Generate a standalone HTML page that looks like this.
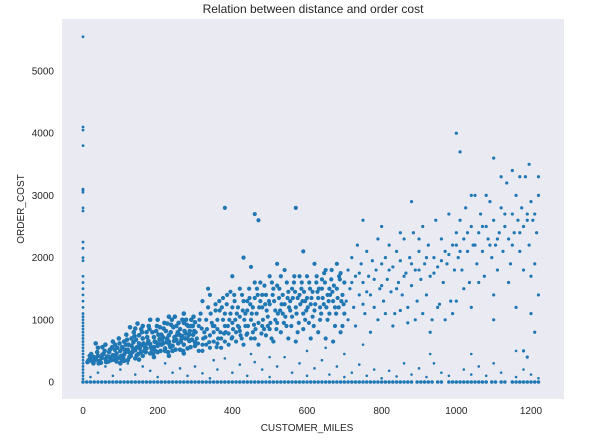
<!DOCTYPE html>
<html><head><meta charset="utf-8"><style>
body{margin:0;background:#fff;font-family:"Liberation Sans",sans-serif}
svg text{font-family:"Liberation Sans",sans-serif;fill:#262626}
</style></head><body>
<svg id="chart" width="606" height="439" xmlns="http://www.w3.org/2000/svg">
<rect x="62" y="19" width="502" height="380" fill="#eaeaf2"/>
<text x="313" y="13" text-anchor="middle" font-size="12">Relation between distance and order cost</text>
<text x="307" y="431" text-anchor="middle" font-size="10">CUSTOMER_MILES</text>
<text transform="translate(24,209) rotate(-90)" text-anchor="middle" font-size="10">ORDER_COST</text>
<g id="ticks"></g>
<g id="points"></g>
</svg>
<script>
const xTicks=[0,200,400,600,800,1000,1200];
const yTicks=[0,1000,2000,3000,4000,5000];
const xCol0=[5550,4100,4050,3800,3100,3080,3050,2800,2750,2250,2150,2000,1950,1700,1600,1500,1400,1300,1200,1100,1050,1000,950,900,850,800,750,700,650,600,550,500,450,400,350,300,250,200,150,100,50];
const zeroXs=[0,10,20,30,40,50,60,70,80,90,100,110,120,130,140,150,160,170,180,190,200,210,220,230,240,250,260,270,280,290,300,310,320,330,340,350,360,370,380,390,400,410,420,430,440,450,460,470,480,490,500,510,520,530,540,550,560,570,580,590,600,610,620,630,640,650,660,670,680,690,700,710,720,730,740,750,760,770,780,790,800,810,820,830,840,850,860,870,880,895,905,915,925,935,950,960,980,990,1000,1010,1020,1030,1040,1050,1060,1070,1080,1095,1105,1120,1130,1150,1160,1170,1180,1190,1200,1210,1220];
const groupA=[[12,320],[15,350],[20,380],[25,330],[30,400],[35,360],[40,420],[45,340],[50,390],[55,450],[60,370],[65,410],[70,480],[75,350],[80,430],[85,520],[90,460],[95,390],[100,500],[105,560],[110,440],[115,600],[120,520],[125,470],[130,580],[135,640],[140,510],[145,560],[150,620],[155,480],[160,700],[165,590],[170,540],[175,660],[180,610],[185,520],[190,720],[195,640],[200,580],[205,690],[210,760],[215,620],[220,540],[225,700],[230,650],[235,800],[240,580],[245,720],[250,680],[255,620],[260,850],[265,740],[270,600],[275,780],[280,700],[285,660],[290,900],[295,760],[300,640],[18,420],[28,300],[38,480],[48,310],[58,500],[68,330],[78,560],[88,400],[98,620],[108,380],[118,680],[128,420],[138,740],[148,450],[158,800],[168,480],[178,850],[188,450],[198,900],[208,500],[218,950],[228,480],[238,1000],[248,520],[258,760],[268,500],[278,920],[288,560],[298,820],[110,650],[130,700],[150,750],[170,800],[190,560],[210,600],[230,750],[250,900],[270,950],[290,1000],[120,350],[140,380],[160,420],[180,460],[200,480],[220,500],[240,500],[260,520],[280,540],[300,580],[100,300],[60,600],[80,650],[40,550],[140,860],[200,1000],[230,1050],[270,1100],[180,1000],[160,900]];
const groupA2=[[22,450],[32,350],[42,300],[52,440],[62,320],[72,400],[82,360],[92,550],[102,420],[112,520],[122,600],[132,480],[142,680],[152,540],[162,620],[172,720],[182,560],[192,650],[202,760],[212,680],[222,820],[232,600],[242,880],[252,760],[262,650],[272,820],[282,900],[292,680],[104,350],[124,400],[144,430],[164,500],[184,540],[204,620],[224,640],[244,660],[264,700],[284,760],[114,480],[134,540],[154,580],[174,620],[194,500],[214,720],[234,560],[254,800],[274,700],[294,900],[86,600],[96,700],[116,760],[136,800],[156,850],[176,900],[196,820],[216,860],[236,920],[256,950],[276,1000],[296,1050],[126,880],[146,940],[166,560],[186,800],[206,880],[226,940],[246,1050],[266,1000],[286,820],[300,960],[72,520],[52,560],[34,620],[90,330],[110,340],[150,360],[190,400],[230,420],[270,460]];
const groupB=[[305,700],[310,900],[315,1100],[320,600],[325,800],[330,1000],[335,1200],[340,750],[345,950],[350,650],[355,1150],[360,850],[365,1300],[370,700],[375,1000],[380,900],[385,1250],[390,780],[395,1100],[400,950],[405,1400],[410,800],[415,1200],[420,1050],[425,700],[430,1300],[435,900],[440,1150],[445,1500],[450,1000],[455,800],[460,1350],[465,1100],[470,950],[475,1600],[480,1200],[485,850],[490,1400],[495,1050],[500,1250],[505,700],[510,1500],[515,1150],[520,950],[525,1350],[530,1700],[535,1100],[540,1250],[545,900],[550,1450],[555,1300],[560,1050],[565,1600],[570,1200],[575,800],[580,1400],[585,1500],[590,1100],[595,1300],[600,1700],[605,950],[610,1250],[615,1450],[620,1150],[625,1600],[630,1350],[635,1000],[640,1500],[645,1250],[650,1800],[655,1400],[660,1100],[665,1650],[670,1300],[675,900],[680,1500],[685,1200],[690,1750],[695,1400],[700,1100],[310,500],[330,600],[350,800],[370,550],[390,600],[410,650],[430,600],[450,700],[470,600],[490,750],[510,650],[530,800],[550,700],[570,650],[590,850],[610,700],[630,800],[650,700],[670,650],[690,800],[320,1300],[340,1400],[360,1000],[380,1100],[400,1200],[420,1500],[440,1300],[460,1600],[480,1400],[500,1700],[520,1550],[540,1800],[560,1500],[580,1700],[600,1350],[620,1900],[640,1650],[660,1500],[680,1900],[700,1600],[335,1500],[355,1250],[375,1350],[395,1450],[415,900],[435,1100],[455,1200],[475,1300],[495,900],[515,1000],[535,1400],[555,1150],[575,1350],[595,1000],[615,1050],[635,1200],[655,1000],[675,1200],[695,900],[450,1850],[520,1900],[400,1700],[470,2600],[380,2800],[570,2800],[460,2700],[430,2000],[590,2100]];
const groupB2=[[302,800],[312,1000],[322,700],[332,850],[342,1100],[352,900],[362,700],[372,1200],[382,800],[392,1000],[402,850],[412,1100],[422,750],[432,1000],[442,900],[452,1100],[462,850],[472,1200],[482,1000],[492,1150],[502,950],[512,1300],[522,1100],[532,1250],[542,1050],[552,1200],[562,1350],[572,1100],[582,1250],[592,1450],[602,1200],[612,1350],[622,1250],[632,1500],[642,1350],[652,1200],[662,1400],[672,1550],[682,1350],[692,1300],[308,620],[328,720],[348,900],[368,800],[388,900],[408,1000],[428,1150],[448,1250],[468,1400],[488,1250],[508,1400],[528,1150],[548,1350],[568,1450],[588,1300],[608,1500],[628,1450],[648,1600],[668,1450],[688,1650],[318,860],[338,640],[358,560],[378,780],[398,700],[418,880],[438,760],[458,920],[478,780],[498,1300],[518,850],[538,950],[558,900],[578,950],[598,1150],[618,900],[638,1100],[658,1300],[678,1100],[698,1250],[366,1150],[386,1400],[406,1300],[426,1400],[446,1350],[466,1500],[486,1550],[506,1600],[526,1500],[546,1600],[566,1700],[586,1600],[606,1600],[626,1700],[646,1750],[666,1800],[686,1700],[320,500],[340,550],[360,620],[380,650],[400,720],[420,820],[440,780],[460,700],[480,900],[500,850]];
const groupC=[[705,1300],[710,1800],[715,1500],[720,2000],[725,1200],[730,1700],[735,2200],[740,1400],[745,1900],[750,1600],[755,1100],[760,2100],[765,1700],[770,1400],[775,1950],[780,1200],[785,1800],[790,2300],[795,1500],[800,1900],[805,1300],[810,2000],[815,1650],[820,2200],[825,1450],[830,1850],[835,1100],[840,2100],[845,1600],[850,1950],[855,1400],[860,2300],[865,1750],[870,1200],[875,2000],[880,1550],[885,2400],[890,1800],[895,1300],[900,2100],[905,1650],[910,2500],[915,1900],[920,1400],[925,2200],[930,1700],[935,1000],[940,2000],[945,2600],[950,1850],[955,1250],[960,2300],[965,1600],[970,2100],[975,1900],[980,2700],[985,1300],[990,2200],[995,1800],[1000,2400],[710,1000],[730,900],[750,1250],[770,800],[790,1000],[810,1100],[830,900],[850,1150],[870,950],[890,1000],[910,1100],[930,800],[950,1200],[970,1000],[990,1100],[720,1600],[740,1750],[760,1450],[780,1650],[800,1550],[820,1800],[840,1500],[860,1700],[880,1900],[900,1800],[920,2000],[940,1750],[960,1950],[980,2050],[1000,2200],[750,2600],[800,2500],[850,2400],[880,2900],[900,2300]];
const groupD=[[1005,2000],[1010,2600],[1015,1800],[1020,2300],[1025,2800],[1030,2100],[1035,1600],[1040,2500],[1045,2200],[1050,3000],[1055,1900],[1060,2400],[1065,2700],[1070,2100],[1075,1700],[1080,2500],[1085,2300],[1090,2900],[1095,2000],[1100,2600],[1105,2200],[1110,1800],[1115,2400],[1120,2800],[1125,2100],[1130,2500],[1135,3200],[1140,2300],[1145,1900],[1150,2700],[1155,2400],[1160,3000],[1165,2600],[1170,2100],[1175,2800],[1180,2500],[1185,3300],[1190,2700],[1195,2200],[1200,2900],[1205,2600],[1210,1900],[1215,2400],[1220,3000],[1010,2100],[1030,2400],[1050,2200],[1070,2500],[1090,2200],[1110,2300],[1130,2700],[1150,2200],[1170,2400],[1190,2600],[1210,2700],[1020,1500],[1060,1600],[1100,1400],[1140,1600],[1180,1800],[1200,1700],[1000,4000],[1010,3700],[1100,3600],[1120,3300],[1150,3400],[1170,3300],[1195,3500],[1220,3300],[1040,3000],[1080,3000],[1000,1300],[1040,1200],[1100,1000],[1160,1200],[1220,1400],[1200,1100],[1210,800],[1180,500],[1190,400]];
const lowGroup=[[20,80],[40,150],[60,250],[80,100],[100,200],[120,300],[140,120],[160,250],[180,180],[200,80],[220,300],[240,150],[260,220],[280,100],[300,250],[320,140],[340,60],[360,200],[380,380],[400,150],[420,280],[440,100],[460,320],[480,200],[500,80],[520,250],[540,400],[560,150],[580,300],[600,100],[620,220],[640,350],[660,120],[680,250],[700,80],[720,150],[740,280],[760,100],[780,200],[800,60],[820,180],[840,90],[860,300],[880,120],[900,220],[920,80],[940,300],[960,150],[980,100],[1020,200],[1040,120],[1060,250],[1080,100],[1100,300],[1120,150],[1160,80],[1180,200],[1200,120],[1220,60],[930,450],[1040,450],[1160,500],[700,450],[750,600],[600,500],[650,550],[500,400],[450,450],[350,350]];

const X=v=>83+v*(448/1200);
const Y=v=>382-v*(311/5000);
const NS='http://www.w3.org/2000/svg';
const tg=document.getElementById('ticks');
xTicks.forEach(t=>{const e=document.createElementNS(NS,'text');


e.setAttribute('x',X(t));e.setAttribute('y',414);e.setAttribute('text-anchor','middle');e.setAttribute('font-size','10');e.textContent=t;tg.appendChild(e);});
yTicks.forEach(t=>{const e=document.createElementNS(NS,'text');


e.setAttribute('x',54);e.setAttribute('y',Y(t)+3.5);e.setAttribute('text-anchor','end');e.setAttribute('font-size','10');e.textContent=t;tg.appendChild(e);});
const pg=document.getElementById('points');
function dot(x,y,r){const c=document.createElementNS(NS,'circle');


c.setAttribute('cx',X(x));c.setAttribute('cy',Y(y));c.setAttribute('r',r);c.setAttribute('fill','#1f77b4');pg.appendChild(c);}
xCol0.forEach(v=>dot(0,v,1.4));
zeroXs.forEach(v=>dot(v,0,1.8));
groupA.forEach(p=>dot(p[0],p[1],2.3));
groupA2.forEach(p=>dot(p[0],p[1],2.3));
groupB.forEach(p=>dot(p[0],p[1],2.1));
groupB2.forEach(p=>dot(p[0],p[1],2.1));
groupC.forEach(p=>dot(p[0],p[1],1.6));
groupD.forEach(p=>dot(p[0],p[1],1.6));
lowGroup.forEach(p=>dot(p[0],p[1],1.3));
</script>
</body></html>
